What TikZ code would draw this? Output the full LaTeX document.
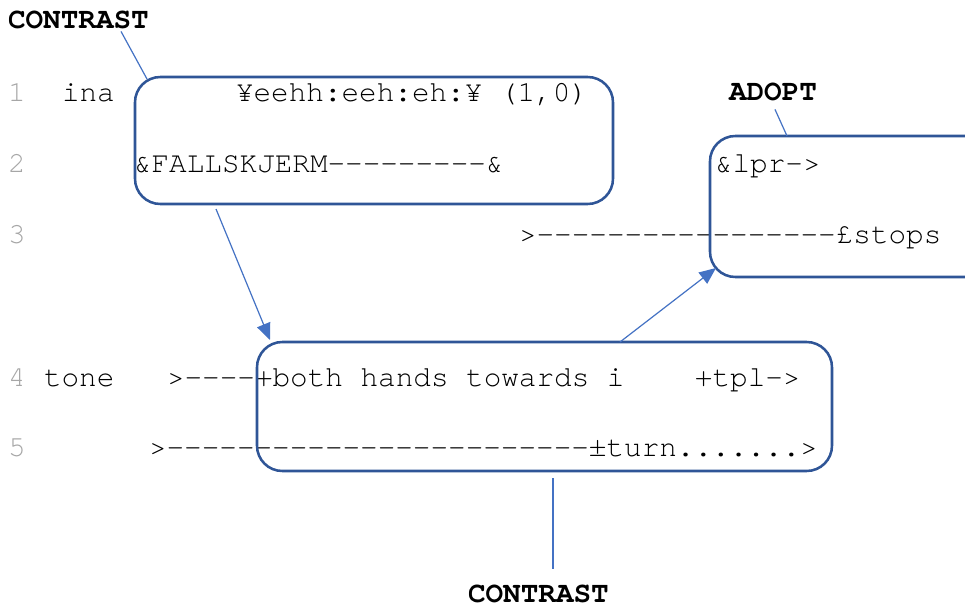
\documentclass[tikz,border=0pt]{standalone}
\usepackage{fontspec}
\setmonofont{texgyrecursor}[Extension=.otf, UprightFont=*-regular, BoldFont=*-bold]
\usetikzlibrary{arrows.meta,calc}
\definecolor{boxblue}{HTML}{2F5597}
\definecolor{linkblue}{HTML}{4472C4}
\definecolor{numgray}{HTML}{A6A6A6}
\tikzset{
  code/.style={anchor=base west, inner sep=0pt, outer sep=0pt,
    font=\ttfamily\fontsize{22pt}{26pt}\selectfont, text=black},
  lineno/.style={code, text=numgray},
  tag/.style={code, font=\ttfamily\bfseries\fontsize{22pt}{26pt}\selectfont},
  frame/.style={draw=boxblue, line width=1.9pt, rounded corners=19pt,
    inner sep=0pt, outer sep=0pt},
  link/.style={draw=linkblue, line width=0.9pt},
  linkarrow/.style={link, -{Triangle[length=12.5pt,width=10.5pt]}},
}
\begin{document}
\begin{tikzpicture}[x=0.75pt,y=-0.75pt]
\useasboundingbox (0,0) rectangle (965,607);
\fill[white] (0,0) rectangle (965,607);
\clip (0,0) rectangle (965,607);

% numbered code lines
\node[lineno] (n1) at (8,101) {1};
\node[code] (w1) at (62,101) {ina};
\node[code] (t1) at (236,101) {¥eehh:eeh:eh:¥ (1,0)};
\node[lineno] (n2) at (8,172) {2};
\node[code] (t2) at (134,172) {\&FALLSKJERM---------\&};
\node[code] (t6) at (715,172) {\&lpr->};
\node[lineno] (n3) at (8,243) {3};
\node[code] (t3) at (519,243) {>-----------------£stops};
\node[lineno] (n4) at (8,386) {4};
\node[code] (w4) at (44,386) {tone};
\node[code] (t4) at (167,386) {>----+both hands towards i~~~~+tpl->};
\node[lineno] (n5) at (8,456) {5};
\node[code] (t5) at (149,456) {>------------------------±turn.......>};

% labels
\node[tag] (lblTop) at (8,28) {CONTRAST};
\node[tag] (lblAdopt) at (729,100) {ADOPT};
\node[tag] (lblBot) at (468,602) {CONTRAST};

% highlighted spans
\node[frame, minimum width=358.5pt, minimum height=95.25pt] (boxA) at (374,140.5) {};
\node[frame, minimum width=210pt, minimum height=105.75pt] (boxB) at (850,206.5) {};
\node[frame, minimum width=431.25pt, minimum height=96.75pt] (boxC) at (544.5,406.5) {};

% connectors
\draw[link] ($(lblTop.south west)+(113,3)$) -- ($(boxA.north west)+(12,2)$);
\draw[linkarrow] ($(boxA.south west)+(81,5)$) -- ($(boxC.north west)+(13,-2)$);
\draw[linkarrow] ($(boxC.north west)+(363,0)$) -- ($(boxB.south west)+(6,-9)$);
\draw[link] ($(lblAdopt.south west)+(46,9)$) -- ($(boxB.north west)+(77,0)$);
\draw[link] ($(boxC.south west)+(296,7)$) -- ($(lblBot.north west)+(85,-15)$);
\end{tikzpicture}
\end{document}
